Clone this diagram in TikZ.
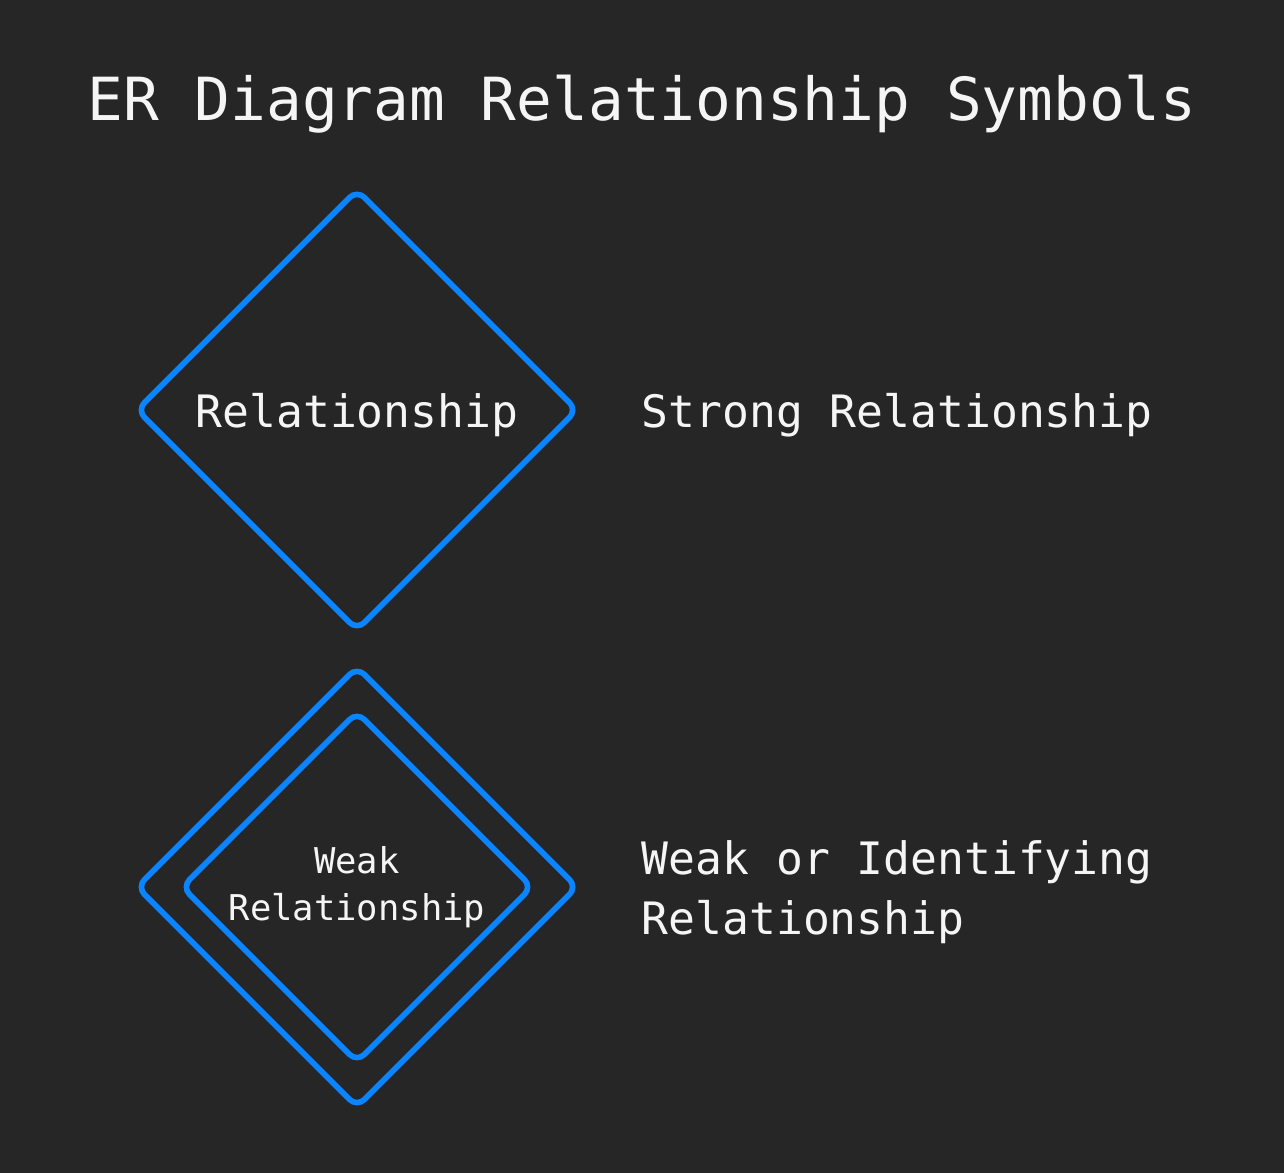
\documentclass[tikz,border=0pt]{standalone}
\usepackage{fontspec}
\setmainfont{DejaVu Sans Mono}
\usetikzlibrary{shapes.geometric}
\definecolor{bgdark}{HTML}{262626}
\definecolor{relblue}{HTML}{0A84FF}
\definecolor{txtwhite}{HTML}{F5F5F5}
\tikzset{
  relshape/.style={diamond, draw=relblue, line width=1.6pt, rounded corners=3pt,
    inner sep=0pt, aspect=1, text=txtwhite, align=center},
  label/.style={text=txtwhite, inner sep=0pt, font=\fontsize{12.7}{16.8}\selectfont}
}
\begin{document}
\begin{tikzpicture}[x=0.01cm,y=-0.01cm]
\fill[bgdark] (0,0) rectangle (1284,1173);
\useasboundingbox (0,0) rectangle (1284,1173);
% title
\node[label, anchor=base, font=\fontsize{16.9}{20}\selectfont] (title) at (642,121) {ER Diagram Relationship Symbols};
% strong relationship
\node[relshape, minimum width=4.42cm, minimum height=4.42cm] (strong) at (357,410) {};
\node[label, anchor=base] (stronginner) at (357,428) {Relationship};
\node[label, anchor=base west] (stronglbl) at (641,428) {Strong Relationship};
% weak relationship
\node[relshape, minimum width=4.42cm, minimum height=4.42cm] (weakout) at (357,887) {};
\node[relshape, minimum width=3.52cm, minimum height=3.52cm, font=\fontsize{10.1}{13.4}\selectfont] (weakin) at (357,887) {Weak\\Relationship};
\node[label, anchor=base west, align=left] (weaklbl) at (641,934) {Weak or Identifying\\Relationship};
\end{tikzpicture}
\end{document}
